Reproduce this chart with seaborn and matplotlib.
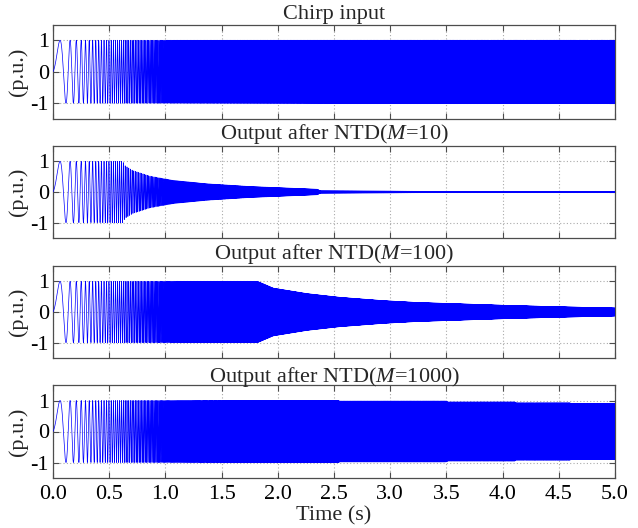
import numpy as np
import pandas as pd
import matplotlib
matplotlib.use("Agg")
import matplotlib.pyplot as plt
import seaborn as sns

# Chirp excitation: instantaneous frequency f(t) = CHIRP_F0 + CHIRP_RATE * t
CHIRP_F0 = 1.0         # Hz
CHIRP_RATE = 95.0      # Hz/s
SAMPLE_RATE = 20000.0  # Hz
DURATION = 5.0         # s

TITLES = [
    "Chirp input",
    r"Output after NTD($\mathit{M}$=10)",
    r"Output after NTD($\mathit{M}$=100)",
    r"Output after NTD($\mathit{M}$=1000)",
]

# Amplitude envelopes (p.u.) of each trace at the given times (s)
ENV_INPUT_T = [0.0, 5.0]
ENV_INPUT_A = [1.0, 1.0]

ENV_M10_T = [0.0, 0.62, 0.64, 0.71, 0.86, 1.07, 1.37, 1.75, 2.35, 2.38, 3.0, 3.5, 5.0]
ENV_M10_A = [1.0, 1.0, 0.86, 0.70, 0.52, 0.38, 0.27, 0.18, 0.09, 0.04, 0.03, 0.015, 0.01]

ENV_M100_T = [0.0, 1.82, 1.96, 2.26, 2.55, 2.94, 3.24, 3.5, 4.0, 4.5, 5.0]
ENV_M100_A = [1.0, 1.0, 0.78, 0.60, 0.48, 0.37, 0.31, 0.28, 0.22, 0.17, 0.13]

ENV_M1000_T = [0.0, 2.54, 2.55, 3.50, 3.51, 4.11, 4.12, 4.60, 4.61, 5.0]
ENV_M1000_A = [1.0, 1.0, 0.98, 0.98, 0.95, 0.95, 0.92, 0.92, 0.90, 0.90]

ENVELOPES = [
    (ENV_INPUT_T, ENV_INPUT_A),
    (ENV_M10_T, ENV_M10_A),
    (ENV_M100_T, ENV_M100_A),
    (ENV_M1000_T, ENV_M1000_A),
]

X_TICKS = [0.0, 0.5, 1.0, 1.5, 2.0, 2.5, 3.0, 3.5, 4.0, 4.5, 5.0]
Y_TICKS = [-1, 0, 1]

t = np.arange(0.0, DURATION + 1.0 / SAMPLE_RATE, 1.0 / SAMPLE_RATE)
carrier = np.sin(2 * np.pi * (CHIRP_F0 * t + 0.5 * CHIRP_RATE * t ** 2))

sns.set_theme(style="ticks")
plt.rcParams["font.family"] = ["Liberation Serif", "DejaVu Serif"]
plt.rcParams["mathtext.fontset"] = "custom"
plt.rcParams["mathtext.it"] = "Liberation Serif:italic"
plt.rcParams["mathtext.rm"] = "Liberation Serif"

fig = plt.figure(figsize=(6.38, 5.28), dpi=100)

W, H = 638.0, 528.0
left_px, right_px = 53.0, 615.0
panel_px = [(24.5, 119.0), (146.0, 238.0), (266.0, 358.0), (385.0, 478.0)]

frame_col = "#4d4d4d"
for i, ((top, bot), (et, ea), title) in enumerate(zip(panel_px, ENVELOPES, TITLES)):
    ax = fig.add_axes([left_px / W, 1 - bot / H, (right_px - left_px) / W, (bot - top) / H])
    env = np.interp(t, et, ea)
    df = pd.DataFrame({"t": t, "v": env * carrier})
    sns.lineplot(data=df, x="t", y="v", ax=ax, color="#0000ff", linewidth=0.5,
                 estimator=None, sort=False, zorder=3)
    ax.set_xlim(0, 5)
    ax.set_ylim(-1.5, 1.5)
    ax.set_xticks(X_TICKS)
    ax.set_yticks(Y_TICKS)
    ax.set_yticklabels(["-1", "0", "1"])
    ax.grid(True, linestyle=(0, (1, 2)), color="#aaaaaa", linewidth=0.8, zorder=0)
    ax.tick_params(direction="in", top=True, right=True, length=4, width=0.8,
                   colors=frame_col, labelcolor="black", labelsize=16, pad=3)
    ax.tick_params(axis="x", pad=5)
    for s in ax.spines.values():
        s.set_color(frame_col)
        s.set_linewidth(0.9)
    ax.set_title(title, fontsize=16, pad=2)
    ax.set_ylabel("(p.u.)", fontsize=16, labelpad=2)
    if i < 3:
        ax.set_xticklabels([])
        ax.set_xlabel("")
    else:
        ax.set_xticklabels([f"{v:.1f}" for v in X_TICKS])
        ax.set_xlabel("Time (s)", fontsize=16, labelpad=2)

fig.savefig("out.png", dpi=100)
